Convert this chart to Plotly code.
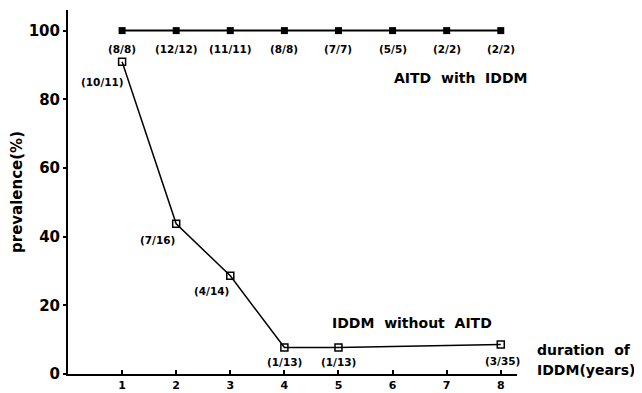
import plotly.graph_objects as go

# Data
years = [1, 2, 3, 4, 5, 6, 7, 8]
aitd_with_iddm = [100, 100, 100, 100, 100, 100, 100, 100]
aitd_labels = ["(8/8)", "(12/12)", "(11/11)", "(8/8)", "(7/7)", "(5/5)", "(2/2)", "(2/2)"]

iddm_years = [1, 2, 3, 4, 5, 8]
iddm_without_aitd = [90.9, 43.75, 28.6, 7.7, 7.7, 8.6]
iddm_labels = ["(10/11)", "(7/16)", "(4/14)", "(1/13)", "(1/13)", "(3/35)"]

y_ticks = [0, 20, 40, 60, 80, 100]

FONT = "DejaVu Sans, Liberation Sans, sans-serif"

fig = go.Figure()
fig.add_trace(go.Scatter(
    x=years, y=aitd_with_iddm, mode="lines+markers",
    line=dict(color="black", width=2),
    marker=dict(symbol="square", size=7, color="black"),
    showlegend=False,
))
fig.add_trace(go.Scatter(
    x=iddm_years, y=iddm_without_aitd, mode="lines+markers",
    line=dict(color="black", width=1.5),
    marker=dict(symbol="square-open", size=7, color="black", line=dict(width=1.5)),
    showlegend=False,
))

small = dict(family=FONT, size=10.5, color="black", weight="bold")
annotations = []
for x, y, t in zip(years, aitd_with_iddm, aitd_labels):
    annotations.append(dict(x=x, y=y, text=t, showarrow=False, yshift=-18, font=small))

lower_shifts = [(-20, -20), (-19, -16), (-19, -15), (0, -14), (0, -14), (2, -17)]
for (x, y, t), (dx, dy) in zip(zip(iddm_years, iddm_without_aitd, iddm_labels), lower_shifts):
    annotations.append(dict(x=x, y=y, text=t, showarrow=False, xshift=dx, yshift=dy, font=small))

big = dict(family=FONT, size=14, color="black", weight="bold")
annotations += [
    dict(xref="paper", yref="paper", x=1.029, y=0.841, text="AITD  with  IDDM",
         showarrow=False, font=big),
    dict(x=6.36, y=14.9, text="IDDM  without  AITD", showarrow=False, font=big),
    dict(xref="paper", yref="paper", x=1.040, y=0.038, text="duration  of",
         showarrow=False, xanchor="left", font=big),
    dict(xref="paper", yref="paper", x=1.040, y=-0.016, text="IDDM(years)",
         showarrow=False, xanchor="left", font=big),
]

# The page places the figure 8px in from the top-left corner.
fig.update_layout(
    width=634, height=385,
    margin=dict(l=60, r=125, t=2, b=19),
    paper_bgcolor="white", plot_bgcolor="white",
    annotations=annotations,
    xaxis=dict(
        range=[0, 8.3], tickvals=years, showgrid=False, zeroline=False,
        showline=True, linecolor="black", linewidth=2, automargin=False,
        ticks="inside", ticklen=4, tickwidth=1.5, tickcolor="black",
        ticklabelstandoff=0,
        tickfont=dict(family=FONT, size=11, color="black", weight="bold"),
    ),
    yaxis=dict(
        range=[0, 106], tickvals=y_ticks, showgrid=False, zeroline=False,
        showline=True, linecolor="black", linewidth=2, automargin=False,
        ticks="outside", ticklen=3, tickwidth=1.5, tickcolor="black",
        tickfont=dict(family=FONT, size=15, color="black", weight="bold"),
        title=dict(text="prevalence(%)", standoff=8,
                   font=dict(family=FONT, size=15, color="black", weight="bold")),
    ),
)

fig.write_html("out.html")
